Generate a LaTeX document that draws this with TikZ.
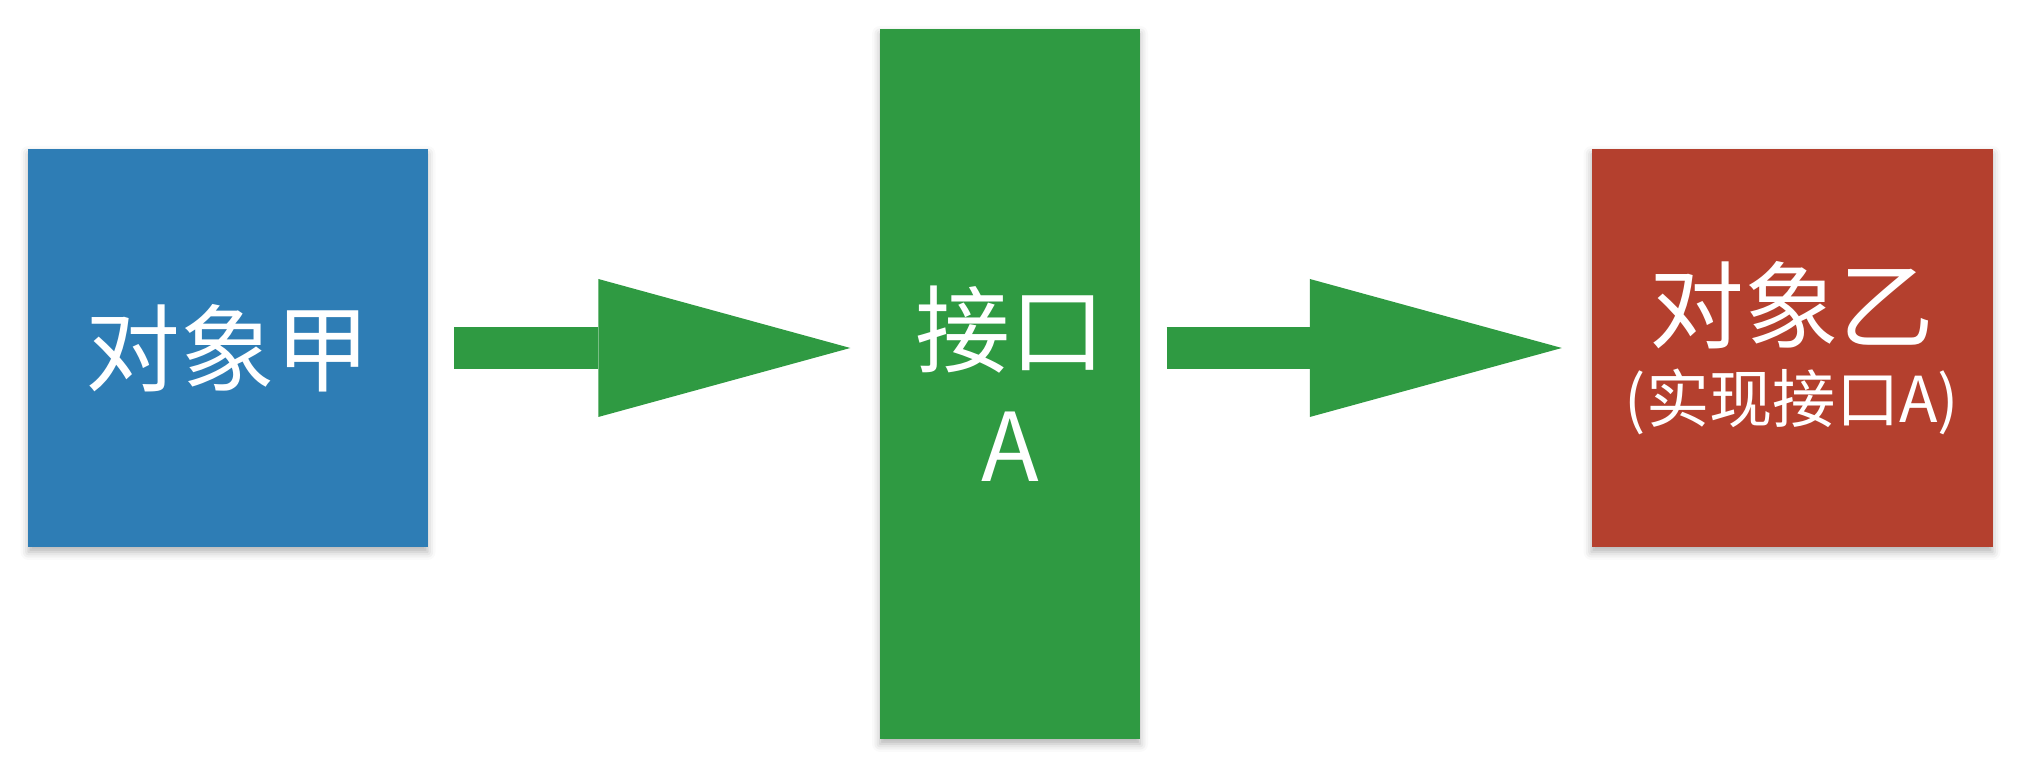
\documentclass[tikz,border=0pt]{standalone}
\usepackage{fontspec}
\setmainfont{Noto Sans CJK SC}
\usetikzlibrary{arrows.meta,positioning,shadows.blur}

\definecolor{objblue}{RGB}{46,125,181}
\definecolor{ifgreen}{RGB}{47,154,66}
\definecolor{objred}{RGB}{180,64,46}

\begin{document}
\begin{tikzpicture}[
    box/.style={rectangle,fill=#1,text=white,inner sep=0pt,align=center,
        font=\fontsize{27}{33}\selectfont,
        blur shadow={shadow xshift=0pt,shadow yshift=-0.05cm,
            shadow blur radius=0.08cm,shadow opacity=30}},
    bigarrow/.style={draw=ifgreen,line width=0.42cm,
        -{Triangle[length=2.52cm,width=1.38cm,line width=0pt]},
        shorten <=0.26cm,shorten >=0.29cm}]
    \useasboundingbox (0,0) rectangle (20.32,7.6);
    \node[box=objblue,minimum width=3.99cm,minimum height=3.98cm] (obja) at (2.28,4.12) {对象甲};
    \node[box=ifgreen,minimum width=2.6cm,minimum height=7.1cm]   (iface) at (10.1,3.76) {接口\\A};
    \node[box=objred,minimum width=4.01cm,minimum height=3.98cm]  (objb) at (17.92,4.12)
        {对象乙\\[-10pt]{\fontsize{18}{22}\selectfont(实现接口A)}};
    \draw[bigarrow] (obja.east) -- (obja.east -| iface.west);
    \draw[bigarrow] (iface.east |- objb.west) -- (objb.west);
\end{tikzpicture}
\end{document}
